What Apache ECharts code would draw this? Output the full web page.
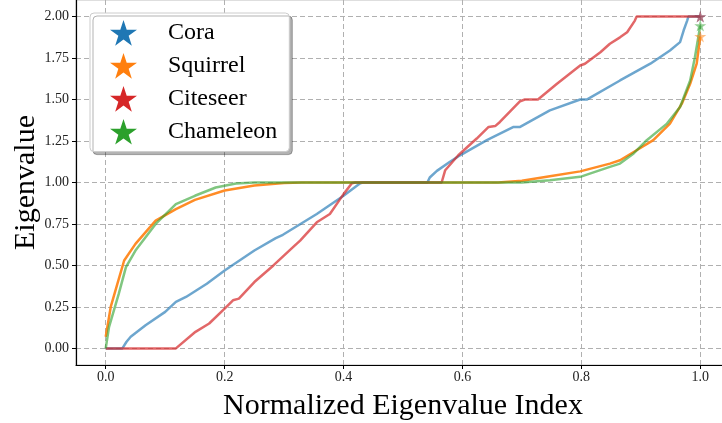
<!DOCTYPE html>
<html>
<head>
<meta charset="utf-8">
<script src="https://cdn.jsdelivr.net/npm/echarts@6/dist/echarts.min.js"></script>
<style>html,body{margin:0;padding:0;background:#fff;}#c{width:722px;height:423px;}</style>
</head>
<body>
<div id="c"></div>
<script>
// ---- data ----
const seriesNames = ['Cora', 'Squirrel', 'Citeseer', 'Chameleon'];
const xTicks = [0, 0.2, 0.4, 0.6, 0.8, 1.0];
const yTicks = [0, 0.25, 0.5, 0.75, 1.0, 1.25, 1.5, 1.75, 2.0];

const cora = [[0,0],[0.028,0],[0.035,0.04],[0.042,0.07],[0.067,0.14],[0.10,0.22],[0.118,0.28],[0.135,0.31],[0.17,0.39],[0.2,0.47],[0.25,0.59],[0.286,0.665],[0.298,0.685],[0.355,0.81],[0.40,0.92],[0.428,0.995],[0.432,1.0],[0.541,1.0],[0.545,1.03],[0.557,1.07],[0.579,1.125],[0.596,1.164],[0.641,1.255],[0.686,1.335],[0.697,1.335],[0.747,1.435],[0.798,1.50],[0.809,1.50],[0.865,1.615],[0.916,1.716],[0.949,1.796],[0.966,1.846],[0.972,1.916],[0.978,1.976],[0.98,2.0],[1.0,2.0]];
const squirrel = [[0,0.07],[0.0084,0.25],[0.0197,0.39],[0.031,0.53],[0.05,0.63],[0.084,0.77],[0.118,0.84],[0.15,0.895],[0.2,0.952],[0.25,0.982],[0.3,0.997],[0.33,1.0],[0.66,1.0],[0.7,1.01],[0.747,1.038],[0.798,1.067],[0.848,1.114],[0.865,1.134],[0.888,1.184],[0.921,1.255],[0.949,1.355],[0.969,1.475],[0.983,1.595],[0.994,1.716],[1.0,1.88]];
const citeseer = [[0,0],[0.118,0],[0.151,0.10],[0.174,0.15],[0.2,0.24],[0.214,0.29],[0.224,0.30],[0.25,0.40],[0.282,0.50],[0.315,0.61],[0.327,0.65],[0.355,0.76],[0.377,0.81],[0.40,0.93],[0.414,0.995],[0.42,1.0],[0.565,1.0],[0.571,1.074],[0.593,1.164],[0.624,1.265],[0.644,1.335],[0.655,1.34],[0.663,1.365],[0.697,1.49],[0.705,1.50],[0.727,1.50],[0.759,1.595],[0.798,1.705],[0.806,1.716],[0.832,1.785],[0.848,1.836],[0.865,1.875],[0.877,1.906],[0.89,1.976],[0.893,2.0],[1.0,2.0]];
const chameleon = [[0,0],[0.0056,0.13],[0.022,0.33],[0.034,0.49],[0.05,0.59],[0.084,0.75],[0.118,0.87],[0.15,0.92],[0.185,0.97],[0.219,0.994],[0.25,1.0],[0.70,1.0],[0.747,1.014],[0.798,1.034],[0.848,1.094],[0.865,1.114],[0.888,1.175],[0.91,1.255],[0.944,1.355],[0.966,1.455],[0.983,1.615],[0.991,1.755],[1.0,1.946]];
const maxStars = [[1.0,2.0],[1.0,1.88],[1.0,2.0],[1.0,1.946]];

// ---- styling ----
const colors = ['#1f77b4', '#ff7f0e', '#d62728', '#2ca02c'];
const lineOpacity = [0.65, 0.9, 0.7, 0.6];
const STAR = 'path://M50 0 L61.23 34.55 L97.55 34.55 L68.16 55.9 L79.39 90.45 L50 69.1 L20.61 90.45 L31.84 55.9 L2.45 34.55 L38.77 34.55 Z';
const FONT = 'Liberation Serif';
const lines = [cora, squirrel, citeseer, chameleon];

const series = [];
lines.forEach((d, i) => {
  series.push({
    name: seriesNames[i], type: 'line', data: d, showSymbol: false, symbol: 'none',
    lineStyle: {color: colors[i], width: 2.5, opacity: lineOpacity[i]},
    itemStyle: {color: colors[i]}, z: 3 + i, silent: true, animation: false
  });
});
lines.forEach((d, i) => {
  series.push({
    name: seriesNames[i], type: 'scatter', data: [maxStars[i]], symbol: STAR, symbolSize: 12,
    itemStyle: {color: colors[i], opacity: 0.5}, z: 10, silent: true, animation: false
  });
});

const chart = echarts.init(document.getElementById('c'), null, {renderer: 'canvas'});
chart.setOption({
  animation: false,
  backgroundColor: '#fff',
  grid: {left: 76, right: -8, top: 0, bottom: 58, show: true, borderColor: '#bdbdbd', borderWidth: 1, containLabel: false, outerBoundsMode: 'none'},
  xAxis: {
    type: 'value', min: -0.05, max: 1.05,
    name: 'Normalized Eigenvalue Index', nameLocation: 'middle', nameGap: 26, nameMoveOverlap: false,
    nameTextStyle: {fontFamily: FONT, fontSize: 30, color: '#000'},
    axisLine: {show: true, onZero: false, lineStyle: {color: '#000', width: 1.2}},
    axisTick: {show: true, length: 4, customValues: xTicks, lineStyle: {color: '#000'}},
    axisLabel: {customValues: xTicks, margin: 5, fontFamily: FONT, fontSize: 14, color: '#222', formatter: v => v.toFixed(1)},
    splitLine: {show: true, lineStyle: {color: '#b0b0b0', width: 1, type: [5, 3]}}
  },
  yAxis: {
    type: 'value', min: -0.1, max: 2.1,
    name: 'Eigenvalue', nameLocation: 'middle', nameGap: 35, nameMoveOverlap: false,
    nameTextStyle: {fontFamily: FONT, fontSize: 30, color: '#000'},
    axisLine: {show: true, onZero: false, lineStyle: {color: '#000', width: 1.2}},
    axisTick: {show: true, length: 4, customValues: yTicks, lineStyle: {color: '#000'}},
    axisLabel: {customValues: yTicks, margin: 7, fontFamily: FONT, fontSize: 14, color: '#222', formatter: v => v.toFixed(2)},
    splitLine: {show: true, lineStyle: {color: '#b0b0b0', width: 1, type: [5, 3]}}
  },
  legend: {
    orient: 'vertical', left: 90, top: 13,
    data: seriesNames.map(n => ({name: n, icon: STAR})),
    itemWidth: 27, itemHeight: 27, itemGap: 7.3,
    padding: [7, 12, 7, 20],
    itemStyle: {opacity: 1},
    textStyle: {fontFamily: FONT, fontSize: 24, color: '#000', padding: [0, 0, 0, 26]},
    backgroundColor: '#fff', borderColor: '#cccccc', borderWidth: 1, borderRadius: 4,
    shadowColor: 'rgba(0,0,0,0.3)', shadowBlur: 0, shadowOffsetX: 3, shadowOffsetY: 3
  },
  series: series
});
</script>
</body>
</html>
